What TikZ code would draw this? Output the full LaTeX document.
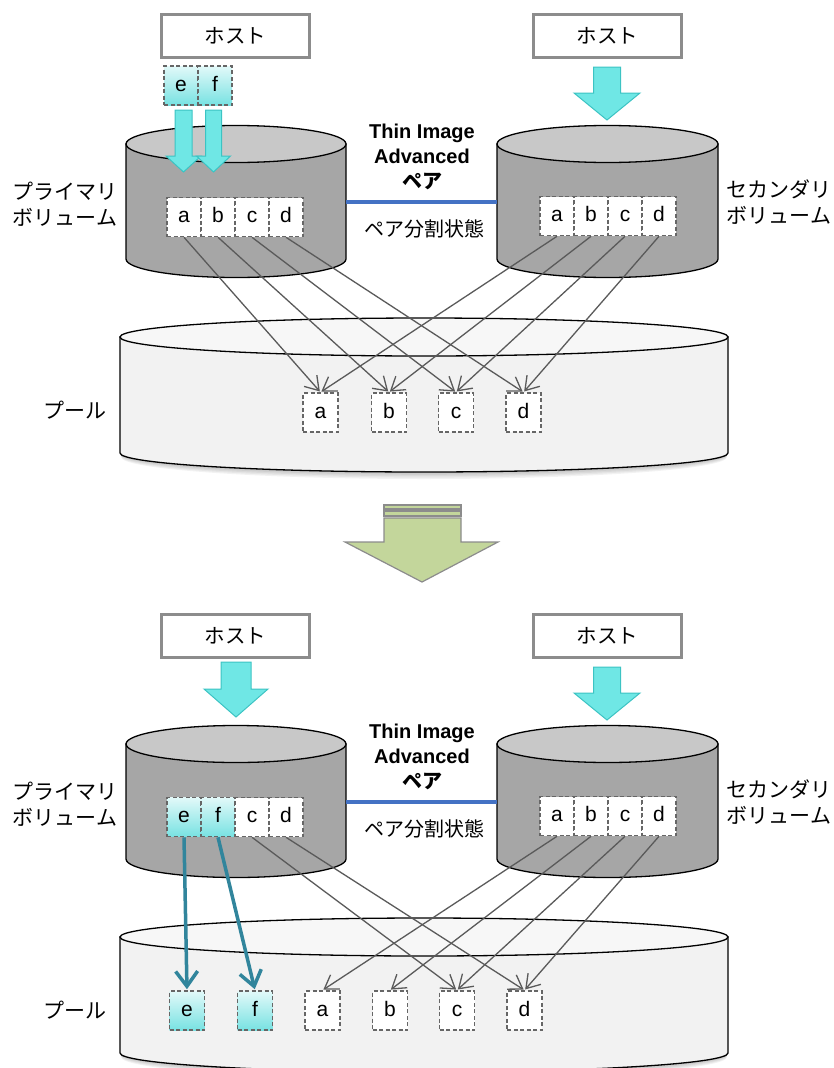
\documentclass[tikz,border=0pt]{standalone}
\usepackage{fontspec}
\setmainfont{Liberation Sans}
\newfontfamily\jp{Noto Sans CJK JP}
\usetikzlibrary{arrows.meta}
\definecolor{dgray}{HTML}{666666}
\definecolor{hostgray}{HTML}{8C8C8C}
\definecolor{cylbody}{HTML}{A6A6A6}
\definecolor{cyltop}{HTML}{C8C8C8}
\definecolor{poolbody}{HTML}{F2F2F2}
\definecolor{pooltop}{HTML}{F7F7F7}
\definecolor{cyfill}{HTML}{6FE7E5}
\definecolor{cyline}{HTML}{3CC3C3}
\definecolor{cytop}{HTML}{E2F9F9}
\definecolor{cybot}{HTML}{78E2E2}
\definecolor{tealc}{HTML}{31859C}
\definecolor{lgray}{HTML}{5A5A5A}
\definecolor{pblue}{HTML}{4472C4}
\definecolor{grfill}{HTML}{C3D69B}
\definecolor{grline}{HTML}{8C8C8C}
\newcommand\drawcyl[7]{%
  \pgfmathsetmacro\cylcx{(#1+#2)/2}\pgfmathsetmacro\cylrx{(#2-#1)/2}%
  \filldraw[fill=#6, draw=black, line width=1.3pt] (#1,#3) -- (#1,#4) arc[start angle=180, end angle=0, x radius=\cylrx, y radius=#5] -- (#2,#3) -- cycle;
  \filldraw[fill=#7, draw=black, line width=1.3pt] (\cylcx,#3) ellipse[x radius=\cylrx, y radius=#5];
}
\newcommand\poolshadow[4]{% x1 x2 yb ry
  \pgfmathsetmacro\cylcx{(#1+#2)/2}\pgfmathsetmacro\cylrx{(#2-#1)/2-1}%
  \foreach \d in {1,2,3,4,5}{\fill[black, opacity=0.05] (\cylcx,#3+\d*0.8) ellipse[x radius=\cylrx, y radius=#4+\d*0.6];}
}
\newcommand\cyarrow[6]{% cx top base tip halfshaft halfhead
  \filldraw[fill=cyfill, draw=cyline, line width=1pt] (#1-#5,#2) -- (#1+#5,#2) -- (#1+#5,#3) -- (#1+#6,#3) -- (#1,#4) -- (#1-#6,#3) -- (#1-#5,#3) -- cycle;
}
\tikzset{
  blk/.style={draw=dgray, dash pattern=on 4pt off 2.5pt, line width=1.6pt, fill=white, minimum width=34pt, minimum height=39pt, inner sep=0pt, text height=11pt, text depth=0pt, font=\fontsize{21}{21}\selectfont},
  pblk/.style={blk, minimum width=35pt},
  cblk/.style={blk, top color=cytop, bottom color=cybot},
  pcblk/.style={cblk, minimum width=35pt},
  host/.style={draw=hostgray, line width=3pt, fill=white, minimum width=148pt, minimum height=43pt, inner sep=0pt, font=\jp\fontsize{20.5}{20.5}\selectfont},
  jplabel/.style={align=center, inner sep=0pt, font=\jp\fontsize{21}{26}\selectfont},
  pairtxt/.style={align=center, inner sep=0pt, font=\bfseries\fontsize{20}{25}\selectfont},
  statetxt/.style={inner sep=0pt, font=\jp\fontsize{20}{20}\selectfont},
  copyline/.style={draw=lgray, line width=1.3pt, -{Straight Barb[length=13pt,width=17pt]}, shorten >=1pt},
  tealline/.style={draw=tealc, line width=3.5pt, -{Straight Barb[length=15pt,width=22pt]}, shorten >=1pt},
  pairline/.style={draw=pblue, line width=3.5pt},
}
\begin{document}
\begin{tikzpicture}[x=1pt,y=-1pt]
\useasboundingbox (0,0) rectangle (834,1068);
% ================= TOP =================
\node[host] (hostL) at (235.5,35.5) {ホスト};
\node[host] (hostR) at (607.5,35.5) {ホスト};
\drawcyl{126}{346}{144}{259}{18.5}{cylbody}{cyltop}
\drawcyl{497}{718}{144}{259}{18.5}{cylbody}{cyltop}
\poolshadow{120}{728}{453}{19}
\drawcyl{120}{728}{337}{453}{19}{poolbody}{pooltop}
\node[cblk] (te) at (181,85.5) {e};
\node[cblk] (tf) at (215,85.5) {f};
\cyarrow{183.5}{110}{156}{172}{8.5}{17.5}
\cyarrow{213.5}{110}{156}{172}{8}{17}
\cyarrow{607}{67}{93}{120}{13.5}{33}
\node[blk] (pa) at (184,217) {a};
\node[blk] (pb) at (218,217) {b};
\node[blk] (pc) at (252,217) {c};
\node[blk] (pd) at (286,217) {d};
\node[blk] (sa) at (557,216) {a};
\node[blk] (sb) at (591,216) {b};
\node[blk] (sc) at (625,216) {c};
\node[blk] (sd) at (659,216) {d};
\node[pblk] (qa) at (320.5,412.5) {a};
\node[pblk] (qb) at (389,412.5) {b};
\node[pblk] (qc) at (456,412.5) {c};
\node[pblk] (qd) at (523.5,412.5) {d};
\foreach \k in {a,b,c,d}{
  \draw[copyline] (p\k.south) -- (q\k.north);
  \draw[copyline] (s\k.south) -- (q\k.north);
}
\coordinate (pR) at (346,202);
\coordinate (sL) at (497,202);
\draw[pairline] (pR) -- (sL);
\node[pairtxt] (pairT) at (422,157) {Thin Image\\Advanced\\{\jp ペア}};
\node[statetxt] (stateT) at (424,229) {ペア分割状態};
\node[jplabel] (plab) at (65,204) {プライマリ\\ボリューム};
\node[jplabel] (slab) at (779,202) {セカンダリ\\ボリューム};
\node[jplabel] (poolT) at (75,410) {プール};
% ================= TRANSITION ARROW =================
\filldraw[fill=grfill, draw=grline, line width=1.2pt] (384,505) rectangle (461,509);
\filldraw[fill=grfill, draw=grline, line width=1.2pt] (384,511) rectangle (461,516);
\filldraw[fill=grfill, draw=grline, line width=1.2pt] (384,518) -- (461,518) -- (461,542) -- (498,542) -- (422,582) -- (345,542) -- (384,542) -- cycle;
% ================= BOTTOM =================
\begin{scope}[shift={(0,600)}]
\node[host] (BhostL) at (235.5,35.5) {ホスト};
\node[host] (BhostR) at (607.5,35.5) {ホスト};
\cyarrow{236}{62}{89}{117}{15}{32}
\cyarrow{607}{67}{93}{120}{13.5}{33}
\drawcyl{126}{346}{144}{259}{18.5}{cylbody}{cyltop}
\drawcyl{497}{718}{144}{259}{18.5}{cylbody}{cyltop}
\poolshadow{120}{728}{453}{19}
\drawcyl{120}{728}{337}{453}{19}{poolbody}{pooltop}
\node[cblk] (Bpe) at (184,217) {e};
\node[cblk] (Bpf) at (218,217) {f};
\node[blk] (Bpc) at (252,217) {c};
\node[blk] (Bpd) at (286,217) {d};
\node[blk] (Bsa) at (557,216) {a};
\node[blk] (Bsb) at (591,216) {b};
\node[blk] (Bsc) at (625,216) {c};
\node[blk] (Bsd) at (659,216) {d};
\node[pcblk] (Bqe) at (187,410.5) {e};
\node[pcblk] (Bqf) at (255,410.5) {f};
\node[pblk] (Bqa) at (322.5,410.5) {a};
\node[pblk] (Bqb) at (390,410.5) {b};
\node[pblk] (Bqc) at (457,410.5) {c};
\node[pblk] (Bqd) at (524.5,410.5) {d};
\draw[copyline] (Bpc.south) -- (Bqc.north);
\draw[copyline] (Bpd.south) -- (Bqd.north);
\foreach \k in {a,b,c,d}{
  \draw[copyline] (Bs\k.south) -- (Bq\k.north);
}
\draw[tealline] (Bpe.south) -- (Bqe.north);
\draw[tealline] (Bpf.south) -- (Bqf.north);
\coordinate (BpR) at (346,202);
\coordinate (BsL) at (497,202);
\draw[pairline] (BpR) -- (BsL);
\node[pairtxt] (BpairT) at (422,157) {Thin Image\\Advanced\\{\jp ペア}};
\node[statetxt] (BstateT) at (424,229) {ペア分割状態};
\node[jplabel] (Bplab) at (65,204) {プライマリ\\ボリューム};
\node[jplabel] (Bslab) at (779,202) {セカンダリ\\ボリューム};
\node[jplabel] (BpoolT) at (75,410) {プール};
\end{scope}
\end{tikzpicture}
\end{document}
